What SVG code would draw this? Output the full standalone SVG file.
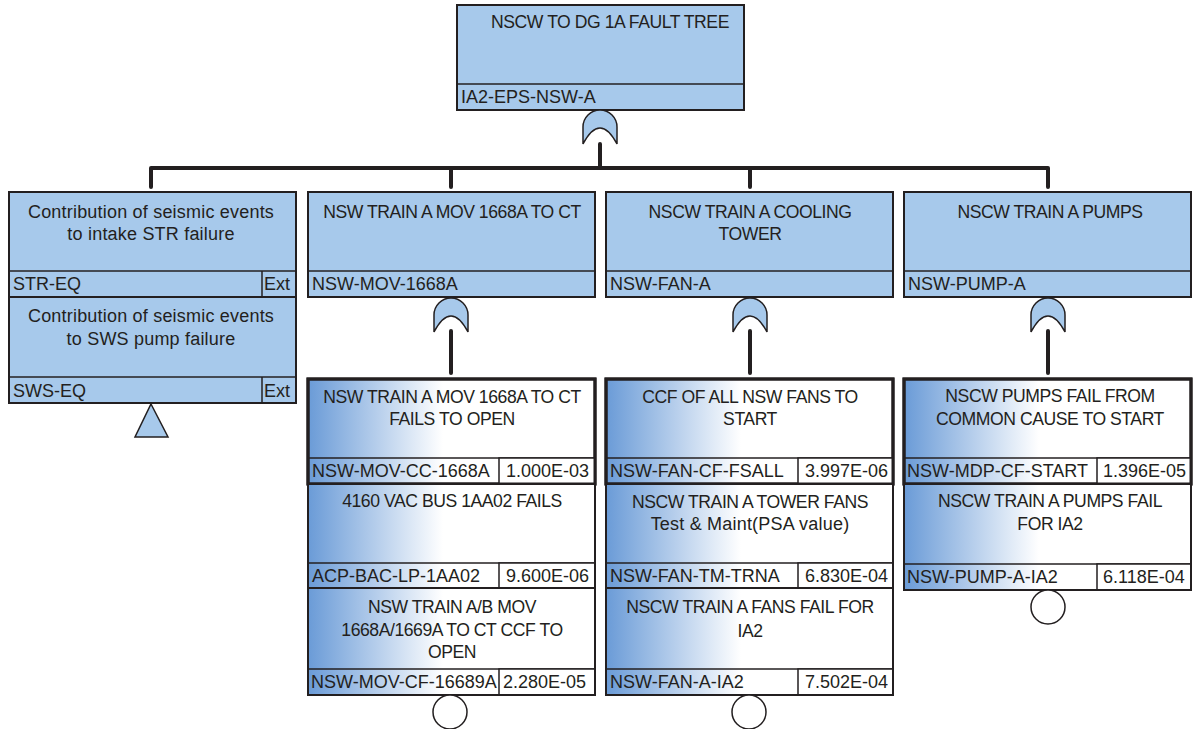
<svg xmlns="http://www.w3.org/2000/svg" width="1198" height="729" viewBox="0 0 1198 729">
<defs>
<linearGradient id="g" x1="0" y1="0" x2="1" y2="0">
<stop offset="0" stop-color="#6a9bd7"/>
<stop offset="0.47" stop-color="#ffffff"/>
<stop offset="1" stop-color="#ffffff"/>
</linearGradient>
<style>
text{font-family:"Liberation Sans",Arial,sans-serif;font-size:18px;fill:#231f20}
.c{text-anchor:middle;font-size:17.6px;letter-spacing:-0.45px}
.l{text-anchor:middle;font-size:18px;letter-spacing:0.2px}
.gate{fill:#a7c9eb;stroke:#231f20;stroke-width:1.5}
.box{fill:#a7c9eb;stroke:#231f20;stroke-width:2}
.be{fill:url(#g);stroke:#231f20;stroke-width:2}
.be1{fill:url(#g);stroke:#231f20;stroke-width:3}
.ln{stroke:#231f20;stroke-width:1.5}
.val{fill:#ffffff;stroke:#231f20;stroke-width:1.5}
.wire{fill:none;stroke:#231f20;stroke-width:4;stroke-linecap:round;stroke-linejoin:round}
.tr{fill:#a7c9eb;stroke:#231f20;stroke-width:1.5}
.ci{fill:#ffffff;stroke:#231f20;stroke-width:1.5}
</style>
</defs>
<rect width="1198" height="729" fill="#ffffff"/>

<g id="connectors">
<path class="wire" d="M600,144 V168 M151,187 V168 H1048 V187 M451,168 V187 M750,168 V187"/>
<path class="wire" d="M451,331 V373 M750,331 V373 M1048,331 V373"/>
</g>

<g id="top">
<rect class="box" x="457" y="5" width="287" height="105"/>
<line class="ln" x1="457" y1="84" x2="744" y2="84"/>
<text class="c" x="610" y="28">NSCW TO DG 1A FAULT TREE</text>
<text x="461" y="103">IA2-EPS-NSW-A</text>
<path class="gate" d="M583,144 V127 A17,17 0 0 1 617,127 V144 Q600,112 583,144 Z"/>
</g>

<g id="str-eq">
<rect class="box" x="9" y="192" width="287" height="105"/>
<line class="ln" x1="9" y1="271" x2="296" y2="271"/>
<line class="ln" x1="262" y1="271" x2="262" y2="297"/>
<text class="l" x="151" y="218">Contribution of seismic events</text>
<text class="l" x="151" y="240">to intake STR failure</text>
<text x="13" y="290">STR-EQ</text>
<text x="264" y="290">Ext</text>
</g>

<g id="sws-eq">
<rect class="box" x="9" y="297" width="287" height="106"/>
<line class="ln" x1="9" y1="377" x2="296" y2="377"/>
<line class="ln" x1="262" y1="377" x2="262" y2="403"/>
<text class="l" x="151" y="322">Contribution of seismic events</text>
<text class="l" x="151" y="345">to SWS pump failure</text>
<text x="13" y="397">SWS-EQ</text>
<text x="264" y="397">Ext</text>
<path class="tr" d="M151,404 L168,437 H135 Z"/>
</g>

<g id="nsw-mov-1668a">
<rect class="box" x="308" y="192" width="287" height="105"/>
<line class="ln" x1="308" y1="271" x2="595" y2="271"/>
<text class="c" x="452" y="218">NSW TRAIN A MOV 1668A TO CT</text>
<text x="312" y="290">NSW-MOV-1668A</text>
<path class="gate" d="M434,332 V315 A17,17 0 0 1 468,315 V332 Q451,300 434,332 Z"/>
</g>

<g id="nsw-fan-a">
<rect class="box" x="606" y="192" width="287" height="105"/>
<line class="ln" x1="606" y1="271" x2="893" y2="271"/>
<text class="c" x="750" y="218">NSCW TRAIN A COOLING</text>
<text class="c" x="750" y="240">TOWER</text>
<text x="610" y="290">NSW-FAN-A</text>
<path class="gate" d="M733,332 V315 A17,17 0 0 1 767,315 V332 Q750,300 733,332 Z"/>
</g>

<g id="nsw-pump-a">
<rect class="box" x="904" y="192" width="287" height="105"/>
<line class="ln" x1="904" y1="271" x2="1191" y2="271"/>
<text class="c" x="1050" y="218">NSCW TRAIN A PUMPS</text>
<text x="908" y="290">NSW-PUMP-A</text>
<path class="gate" d="M1031,332 V315 A17,17 0 0 1 1065,315 V332 Q1048,300 1031,332 Z"/>
</g>

<g id="nsw-mov-cc-1668a">
<rect class="be1" x="308" y="379" width="287" height="105"/>
<line class="ln" x1="308" y1="458" x2="595" y2="458"/>
<rect class="val" x="499" y="458" width="96" height="26"/>
<rect x="308" y="379" width="287" height="105" fill="none" stroke="#231f20" stroke-width="3"/>
<text class="c" x="452" y="403">NSW TRAIN A MOV 1668A TO CT</text>
<text class="c" x="452" y="425">FAILS TO OPEN</text>
<text x="312" y="477">NSW-MOV-CC-1668A</text>
<text x="506" y="477">1.000E-03</text>
</g>

<g id="acp-bac-lp-1aa02">
<rect class="be" x="308" y="484" width="287" height="104"/>
<line class="ln" x1="308" y1="563" x2="595" y2="563"/>
<rect class="val" x="499" y="563" width="96" height="25"/>
<rect x="308" y="484" width="287" height="104" fill="none" stroke="#231f20" stroke-width="2"/>
<text class="c" x="452" y="507">4160 VAC BUS 1AA02 FAILS</text>
<text x="312" y="582">ACP-BAC-LP-1AA02</text>
<text x="506" y="582">9.600E-06</text>
</g>

<g id="nsw-mov-cf-16689a">
<rect class="be" x="308" y="588" width="287" height="107"/>
<line class="ln" x1="308" y1="669" x2="595" y2="669"/>
<rect class="val" x="499" y="669" width="96" height="26"/>
<rect x="308" y="588" width="287" height="107" fill="none" stroke="#231f20" stroke-width="2"/>
<text class="c" x="452" y="613">NSW TRAIN A/B MOV</text>
<text class="c" x="452" y="636">1668A/1669A TO CT CCF TO</text>
<text class="c" x="452" y="658">OPEN</text>
<text x="311" y="688">NSW-MOV-CF-16689A</text>
<text x="503" y="688">2.280E-05</text>
<circle class="ci" cx="450" cy="712" r="17"/>
</g>

<g id="nsw-fan-cf-fsall">
<rect class="be1" x="606" y="379" width="287" height="105"/>
<line class="ln" x1="606" y1="458" x2="893" y2="458"/>
<rect class="val" x="798" y="458" width="95" height="26"/>
<rect x="606" y="379" width="287" height="105" fill="none" stroke="#231f20" stroke-width="3"/>
<text class="c" x="750" y="403">CCF OF ALL NSW FANS TO</text>
<text class="c" x="750" y="425">START</text>
<text x="610" y="477">NSW-FAN-CF-FSALL</text>
<text x="805" y="477">3.997E-06</text>
</g>

<g id="nsw-fan-tm-trna">
<rect class="be" x="606" y="484" width="287" height="104"/>
<line class="ln" x1="606" y1="563" x2="893" y2="563"/>
<rect class="val" x="798" y="563" width="95" height="25"/>
<rect x="606" y="484" width="287" height="104" fill="none" stroke="#231f20" stroke-width="2"/>
<text class="c" x="750" y="508">NSCW TRAIN A TOWER FANS</text>
<text class="l" x="750" y="530">Test &amp; Maint(PSA value)</text>
<text x="610" y="582">NSW-FAN-TM-TRNA</text>
<text x="805" y="582">6.830E-04</text>
</g>

<g id="nsw-fan-a-ia2">
<rect class="be" x="606" y="588" width="287" height="107"/>
<line class="ln" x1="606" y1="669" x2="893" y2="669"/>
<rect class="val" x="798" y="669" width="95" height="26"/>
<rect x="606" y="588" width="287" height="107" fill="none" stroke="#231f20" stroke-width="2"/>
<text class="c" x="750" y="613">NSCW TRAIN A FANS FAIL FOR</text>
<text class="c" x="750" y="637">IA2</text>
<text x="610" y="688">NSW-FAN-A-IA2</text>
<text x="805" y="688">7.502E-04</text>
<circle class="ci" cx="749" cy="712" r="17"/>
</g>

<g id="nsw-mdp-cf-start">
<rect class="be1" x="904" y="379" width="287" height="105"/>
<line class="ln" x1="904" y1="458" x2="1191" y2="458"/>
<rect class="val" x="1097" y="458" width="94" height="26"/>
<rect x="904" y="379" width="287" height="105" fill="none" stroke="#231f20" stroke-width="3"/>
<text class="c" x="1050" y="402">NSCW PUMPS FAIL FROM</text>
<text class="c" x="1050" y="425">COMMON CAUSE TO START</text>
<text x="907" y="477">NSW-MDP-CF-START</text>
<text x="1103" y="477">1.396E-05</text>
</g>

<g id="nsw-pump-a-ia2">
<rect class="be" x="904" y="484" width="287" height="106"/>
<line class="ln" x1="904" y1="564" x2="1191" y2="564"/>
<rect class="val" x="1097" y="564" width="94" height="26"/>
<rect x="904" y="484" width="287" height="106" fill="none" stroke="#231f20" stroke-width="2"/>
<text class="c" x="1050" y="507">NSCW TRAIN A PUMPS FAIL</text>
<text class="c" x="1050" y="530">FOR IA2</text>
<text x="907" y="583">NSW-PUMP-A-IA2</text>
<text x="1103" y="583">6.118E-04</text>
<circle class="ci" cx="1048" cy="607" r="17"/>
</g>
</svg>
